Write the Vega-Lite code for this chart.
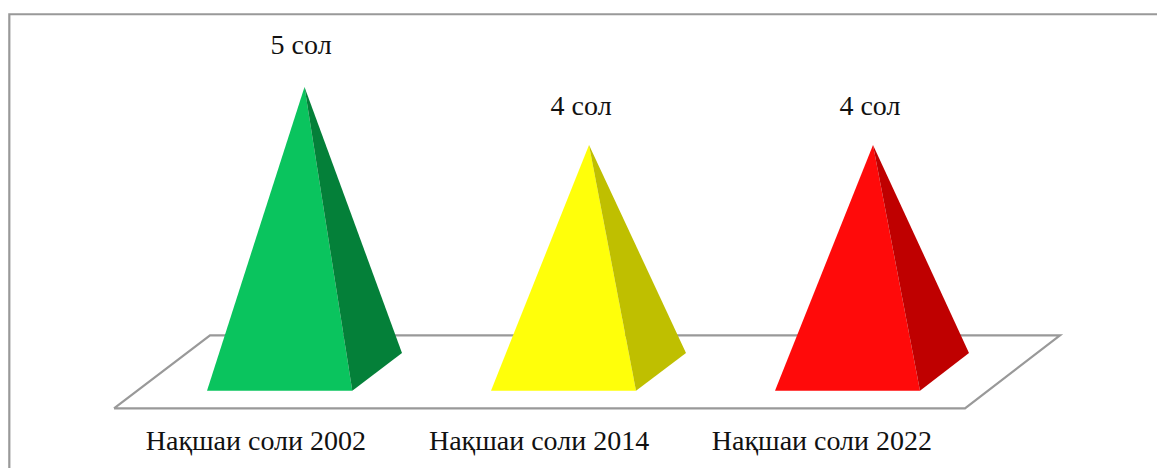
{"$schema":"https://vega.github.io/schema/vega-lite/v6.json","width":1157,"height":468,"padding":0,"autosize":{"type":"none"},"background":"white","config":{"view":{"stroke":null}},
"datasets":{
"frame":[
{"path":"border","i":1,"x":0.0486,"y":-1.273},{"path":"border","i":2,"x":0.0486,"y":6.197},{"path":"border","i":3,"x":4.0898,"y":6.197},
{"path":"floor","i":1,"x":0.4173,"y":-0.29},{"path":"floor","i":2,"x":0.7553,"y":0.909},{"path":"floor","i":3,"x":3.7482,"y":0.909},{"path":"floor","i":4,"x":3.4137,"y":-0.29},{"path":"floor","i":5,"x":0.4173,"y":-0.29}],
"faces":[
{"face":"2002 front","x":0.7447,"y":0,"y2":0},{"face":"2002 front","x":1.088,"y":5,"y2":0},{"face":"2002 front","x":1.2563,"y":0,"y2":0},
{"face":"2002 side","x":1.088,"y":5,"y2":5},{"face":"2002 side","x":1.2563,"y":2.855,"y2":0},{"face":"2002 side","x":1.4313,"y":0.621,"y2":0.621},
{"face":"2014 front","x":1.7447,"y":0,"y2":0},{"face":"2014 front","x":2.0898,"y":4.045,"y2":0},{"face":"2014 front","x":2.2553,"y":0,"y2":0},
{"face":"2014 side","x":2.0898,"y":4.045,"y2":4.045},{"face":"2014 side","x":2.2553,"y":2.386,"y2":0},{"face":"2014 side","x":2.4313,"y":0.621,"y2":0.621},
{"face":"2022 front","x":2.7447,"y":0,"y2":0},{"face":"2022 front","x":3.0898,"y":4.045,"y2":0},{"face":"2022 front","x":3.2553,"y":0,"y2":0},
{"face":"2022 side","x":3.0898,"y":4.045,"y2":4.045},{"face":"2022 side","x":3.2553,"y":2.37,"y2":0},{"face":"2022 side","x":3.4278,"y":0.621,"y2":0.621}],
"labels":[
{"x":1.076,"y":5.674,"t":"5 сол"},{"x":2.062,"y":4.678,"t":"4 сол"},{"x":3.079,"y":4.678,"t":"4 сол"},
{"x":0.917,"y":-0.845,"t":"Нақшаи соли 2002"},{"x":1.914,"y":-0.845,"t":"Нақшаи соли 2014"},{"x":2.91,"y":-0.845,"t":"Нақшаи соли 2022"}]
},
"encoding":{
"x":{"field":"x","type":"quantitative","axis":null,"scale":{"domain":[0.0158,4.0898],"nice":false,"zero":false}},
"y":{"field":"y","type":"quantitative","axis":null,"stack":null,"scale":{"domain":[-1.273,6.432],"nice":false,"zero":false}}},
"layer":[
{"data":{"name":"frame"},"mark":{"type":"line","color":"#999999","strokeWidth":2.2,"clip":false},"encoding":{"detail":{"field":"path"},"order":{"field":"i","type":"quantitative"}}},
{"data":{"name":"faces"},"mark":{"type":"area","opacity":1,"interpolate":"linear"},"encoding":{"y2":{"field":"y2"},"color":{"field":"face","type":"nominal","legend":null,"scale":{"domain":["2002 front","2002 side","2014 front","2014 side","2022 front","2022 side"],"range":["#0AC45E","#048039","#FFFF0A","#BFBF00","#FF0A0A","#BF0000"]}}}},
{"data":{"name":"labels"},"mark":{"type":"text","font":"Liberation Serif","fontSize":28,"color":"#111111","align":"center","baseline":"middle"},"encoding":{"text":{"field":"t"}}}
]}
